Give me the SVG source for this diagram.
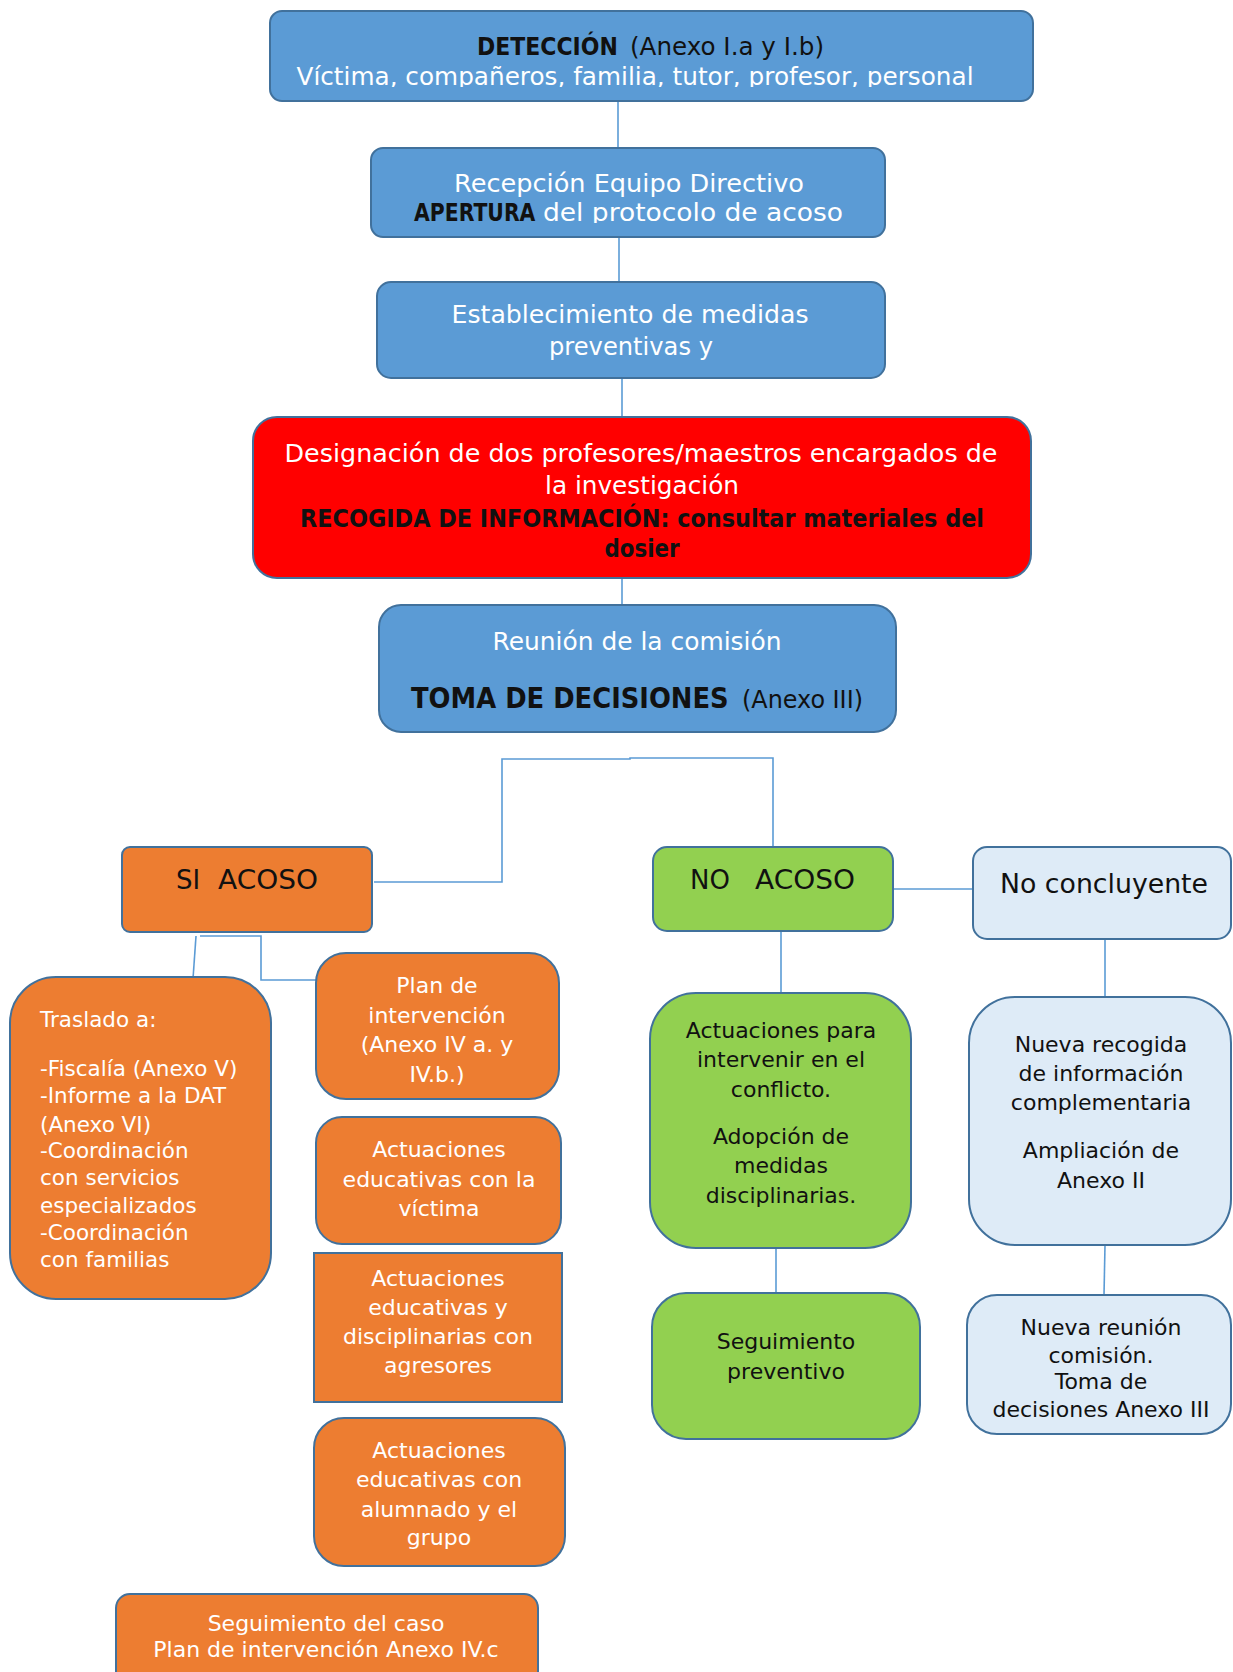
<svg xmlns="http://www.w3.org/2000/svg" width="1233" height="1672" viewBox="0 0 1233 1672">
  <style>
    .box { stroke: #41719c; stroke-width: 2; }
    .blue { fill: #5b9bd5; }
    .red { fill: #ff0000; }
    .orange { fill: #ed7d31; }
    .green { fill: #92d050; }
    .pale { fill: #deebf7; }
    .link { fill: none; stroke: #5b9bd5; stroke-width: 1.6; }
    text { font-family: "DejaVu Sans", "Liberation Sans", sans-serif; }
    .w { fill: #ffffff; }
    .k { fill: #111111; }
    .b { font-weight: bold; }
    .c { text-anchor: middle; }
    .t25 { font-size: 25px; }
    .t22 { font-size: 22px; }
  </style>
  <defs>
    <clipPath id="clipDet"><rect x="260" y="0" width="790" height="87"/></clipPath>
    <clipPath id="clipRec"><rect x="360" y="140" width="540" height="83"/></clipPath>
  </defs>

  <rect width="1233" height="1672" fill="#ffffff"/>

  <!-- connectors -->
  <g id="connectors">
    <path class="link" d="M618 101 V148"/>
    <path class="link" d="M619 237 V282"/>
    <path class="link" d="M622 378 V417"/>
    <path class="link" d="M622 578 V605"/>
    <path class="link" d="M374 882 H502 V759 H630 V758 H773 V847"/>
    <path class="link" d="M893 889 H973"/>
    <path class="link" d="M196 936 L192 993"/>
    <path class="link" d="M200 936 H261 V980 H324"/>
    <path class="link" d="M781 931 V993"/>
    <path class="link" d="M776 1248 V1293"/>
    <path class="link" d="M1105 939 V997"/>
    <path class="link" d="M1105 1245 L1104 1295"/>
  </g>

  <!-- detection -->
  <g id="deteccion">
    <rect class="box blue" x="270" y="11" width="763" height="90" rx="12"/>
    <text class="k b t25" transform="translate(477 55) scale(0.88 1)">DETECCIÓN</text>
    <text class="k" x="630" y="55" font-size="24.5" textLength="194" lengthAdjust="spacingAndGlyphs">(Anexo I.a y I.b)</text>
    <g clip-path="url(#clipDet)">
      <text class="w t25 c" x="635" y="85" textLength="677" lengthAdjust="spacingAndGlyphs">Víctima, compañeros, familia, tutor, profesor, personal</text>
    </g>
  </g>

  <!-- reception by the management team -->
  <g id="recepcion">
    <rect class="box blue" x="371" y="148" width="514" height="89" rx="12"/>
    <text class="w c" x="629" y="192" font-size="24" textLength="350" lengthAdjust="spacingAndGlyphs">Recepción Equipo Directivo</text>
    <g clip-path="url(#clipRec)">
      <text class="k b" font-size="24" transform="translate(414 221) scale(0.85 1)">APERTURA</text>
      <text class="w" x="543" y="221" font-size="24" textLength="300" lengthAdjust="spacingAndGlyphs">del protocolo de acoso</text>
    </g>
  </g>

  <!-- preventive measures -->
  <g id="medidas">
    <rect class="box blue" x="377" y="282" width="508" height="96" rx="14"/>
    <text class="w t25 c" x="630" y="323" textLength="357" lengthAdjust="spacingAndGlyphs">Establecimiento de medidas</text>
    <text class="w t25 c" x="631" y="355" textLength="164" lengthAdjust="spacingAndGlyphs">preventivas y</text>
  </g>

  <!-- investigators -->
  <g id="designacion">
    <rect class="box red" x="253" y="417" width="778" height="161" rx="24"/>
    <text class="w t25 c" x="641" y="462" textLength="713" lengthAdjust="spacingAndGlyphs">Designación de dos profesores/maestros encargados de</text>
    <text class="w t25 c" x="642" y="494" textLength="194" lengthAdjust="spacingAndGlyphs">la investigación</text>
    <text class="k b c" x="642" y="527" font-size="24" textLength="684" lengthAdjust="spacingAndGlyphs">RECOGIDA DE INFORMACIÓN: consultar materiales del</text>
    <text class="k b c" x="642" y="557" font-size="24" textLength="75" lengthAdjust="spacingAndGlyphs">dosier</text>
  </g>

  <!-- committee meeting -->
  <g id="reunion">
    <rect class="box blue" x="379" y="605" width="517" height="127" rx="22"/>
    <text class="w t25 c" x="637" y="650" textLength="289" lengthAdjust="spacingAndGlyphs">Reunión de la comisión</text>
    <text class="k b" font-size="29" transform="translate(411 708) scale(0.89 1)">TOMA DE DECISIONES</text>
    <text class="k" x="742" y="708" font-size="24" textLength="121" lengthAdjust="spacingAndGlyphs">(Anexo III)</text>
  </g>

  <!-- outcomes -->
  <g id="si-acoso">
    <rect class="box orange" x="122" y="847" width="250" height="85" rx="8"/>
    <text class="k" y="889" font-size="26"><tspan x="176">SI</tspan><tspan x="218" textLength="100" lengthAdjust="spacingAndGlyphs">ACOSO</tspan></text>
  </g>

  <g id="no-acoso">
    <rect class="box green" x="653" y="847" width="240" height="84" rx="14"/>
    <text class="k" y="889" font-size="26"><tspan x="690">NO</tspan><tspan x="755" textLength="100" lengthAdjust="spacingAndGlyphs">ACOSO</tspan></text>
  </g>

  <g id="no-concluyente">
    <rect class="box pale" x="973" y="847" width="258" height="92" rx="14"/>
    <text class="k c" x="1104" y="893" font-size="26" textLength="208" lengthAdjust="spacingAndGlyphs">No concluyente</text>
  </g>

  <!-- SI ACOSO branch -->
  <g id="traslado">
    <rect class="box orange" x="10" y="977" width="261" height="322" rx="46"/>
    <g class="w" font-size="21.5">
      <text x="40" y="1027">Traslado a:</text>
      <text x="40" y="1076">-Fiscalía (Anexo V)</text>
      <text x="40" y="1103">-Informe a la DAT</text>
      <text x="40" y="1132">(Anexo VI)</text>
      <text x="40" y="1158">-Coordinación</text>
      <text x="40" y="1185">con servicios</text>
      <text x="40" y="1213">especializados</text>
      <text x="40" y="1240">-Coordinación</text>
      <text x="40" y="1267">con familias</text>
    </g>
  </g>

  <g id="plan-intervencion">
    <rect class="box orange" x="316" y="953" width="243" height="146" rx="30"/>
    <g class="w t22 c">
      <text x="437" y="993">Plan de</text>
      <text x="437" y="1023">intervención</text>
      <text x="437" y="1052">(Anexo IV a. y</text>
      <text x="437" y="1082">IV.b.)</text>
    </g>
  </g>

  <g id="act-victima">
    <rect class="box orange" x="316" y="1117" width="245" height="127" rx="26"/>
    <g class="w t22 c">
      <text x="439" y="1157">Actuaciones</text>
      <text x="439" y="1187">educativas con la</text>
      <text x="439" y="1216">víctima</text>
    </g>
  </g>

  <g id="act-agresores">
    <rect class="box orange" x="314" y="1253" width="248" height="149"/>
    <g class="w t22 c">
      <text x="438" y="1286">Actuaciones</text>
      <text x="438" y="1315">educativas y</text>
      <text x="438" y="1344">disciplinarias con</text>
      <text x="438" y="1373">agresores</text>
    </g>
  </g>

  <g id="act-grupo">
    <rect class="box orange" x="314" y="1418" width="251" height="148" rx="30"/>
    <g class="w t22 c">
      <text x="439" y="1458">Actuaciones</text>
      <text x="439" y="1487">educativas con</text>
      <text x="439" y="1517">alumnado y el</text>
      <text x="439" y="1545">grupo</text>
    </g>
  </g>

  <g id="seguimiento-caso">
    <rect class="box orange" x="116" y="1594" width="422" height="100" rx="14"/>
    <g class="w t22 c">
      <text x="326" y="1631">Seguimiento del caso</text>
      <text x="326" y="1657">Plan de intervención Anexo IV.c</text>
    </g>
  </g>

  <!-- NO ACOSO branch -->
  <g id="act-conflicto">
    <rect class="box green" x="650" y="993" width="261" height="255" rx="46"/>
    <g class="k t22 c">
      <text x="781" y="1038">Actuaciones para</text>
      <text x="781" y="1067">intervenir en el</text>
      <text x="781" y="1097">conflicto.</text>
      <text x="781" y="1144">Adopción de</text>
      <text x="781" y="1173">medidas</text>
      <text x="781" y="1203">disciplinarias.</text>
    </g>
  </g>

  <g id="seguimiento-preventivo">
    <rect class="box green" x="652" y="1293" width="268" height="146" rx="34"/>
    <g class="k t22 c">
      <text x="786" y="1349">Seguimiento</text>
      <text x="786" y="1379">preventivo</text>
    </g>
  </g>

  <!-- inconclusive branch -->
  <g id="nueva-recogida">
    <rect class="box pale" x="969" y="997" width="262" height="248" rx="46"/>
    <g class="k t22 c">
      <text x="1101" y="1052">Nueva recogida</text>
      <text x="1101" y="1081">de información</text>
      <text x="1101" y="1110">complementaria</text>
      <text x="1101" y="1158">Ampliación de</text>
      <text x="1101" y="1188">Anexo II</text>
    </g>
  </g>

  <g id="nueva-reunion">
    <rect class="box pale" x="967" y="1295" width="264" height="139" rx="30"/>
    <g class="k t22 c">
      <text x="1101" y="1335">Nueva reunión</text>
      <text x="1101" y="1363">comisión.</text>
      <text x="1101" y="1389">Toma de</text>
      <text x="1101" y="1417">decisiones Anexo III</text>
    </g>
  </g>
</svg>
